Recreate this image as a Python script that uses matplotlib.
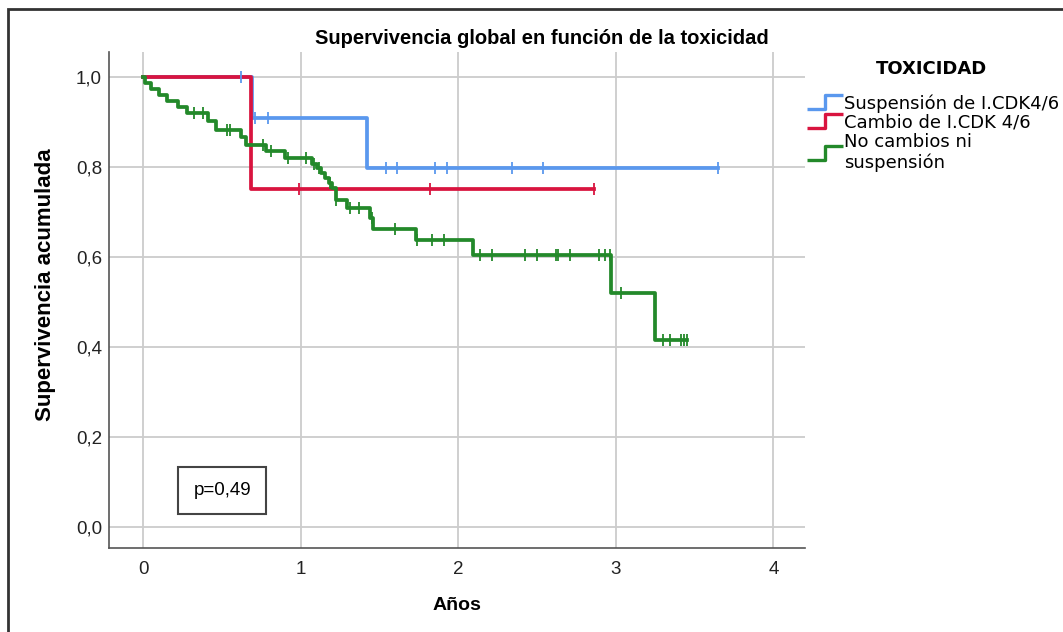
import matplotlib.pyplot as plt
from matplotlib.path import Path
from matplotlib.lines import Line2D
from matplotlib.patches import Rectangle

# curvas de Kaplan-Meier (tiempo del evento, supervivencia despues)
azul_t = [0.69, 1.42]
azul_s = [0.909, 0.798]
azul_cens = [0.62, 0.71, 0.79, 1.54, 1.61, 1.85, 1.93, 2.34, 2.54, 3.65]

rojo_t = [0.686]
rojo_s = [0.751]
rojo_cens = [0.99, 1.82, 2.86]

verde_t = [0.01, 0.05, 0.10, 0.15, 0.22, 0.28, 0.41, 0.46, 0.62, 0.65, 0.78, 0.90,
           1.07, 1.10, 1.13, 1.15, 1.18, 1.20, 1.22, 1.29, 1.44, 1.46, 1.73, 2.09,
           2.97, 3.25]
verde_s = [0.987, 0.974, 0.960, 0.947, 0.934, 0.921, 0.902, 0.883, 0.866, 0.849, 0.835, 0.820,
           0.808, 0.797, 0.786, 0.775, 0.764, 0.753, 0.727, 0.708, 0.686, 0.662, 0.637, 0.604,
           0.519, 0.415]
verde_cens = [0.32, 0.38, 0.53, 0.55, 0.76, 0.81, 0.92, 1.03, 1.085, 1.115, 1.185, 1.22,
              1.31, 1.37, 1.45, 1.60, 1.74, 1.83, 1.91, 2.14, 2.21, 2.42, 2.50, 2.62,
              2.63, 2.71, 2.89, 2.93, 2.96, 3.03, 3.30, 3.34, 3.41, 3.43, 3.45]

grupos = ["Suspensión de I.CDK4/6", "Cambio de I.CDK 4/6", "No cambios ni\nsuspensión"]
colores = ["#5a98ee", "#d9143f", "#23892a"]

estrecha = ['Liberation Sans', 'DejaVu Sans']

fig = plt.figure(figsize=(10.63, 6.32), dpi=100)
ax = fig.add_axes([109/1063, 1 - 548/632, (805-109)/1063, (548-52)/632])


def curva(t, s, cens, color):
    x = [0] + list(t) + [max(cens + list(t))]
    y = [1.0] + list(s) + [s[-1]]
    ax.step(x, y, where='post', color=color, lw=2.7, zorder=3)
    # marcas de censura
    cy = []
    for c in cens:
        v = 1.0
        for ti, si in zip(t, s):
            if ti <= c:
                v = si
        cy.append(v)
    ax.plot(cens, cy, ls='none', marker='|', ms=8, mew=1.3, color=color, zorder=4)


curva(azul_t, azul_s, azul_cens, colores[0])
curva(rojo_t, rojo_s, rojo_cens, colores[1])
curva(verde_t, verde_s, verde_cens, colores[2])

ax.set_xlim(-0.218, 4.2)
ax.set_ylim(-0.047, 1.056)
ax.set_xticks([0, 1, 2, 3, 4])
ax.set_yticks([0, 0.2, 0.4, 0.6, 0.8, 1.0])
ax.set_yticklabels(["0,0", "0,2", "0,4", "0,6", "0,8", "1,0"])
ax.tick_params(length=0, labelsize=13.5, colors='#222222')
ax.tick_params(axis='y', pad=5)
ax.tick_params(axis='x', pad=9)
for lab in ax.get_xticklabels() + ax.get_yticklabels():
    lab.set_family(estrecha)
ax.grid(color='#cccccc', lw=1.3)
ax.set_axisbelow(True)
for lado in ['top', 'right']:
    ax.spines[lado].set_visible(False)
for lado in ['left', 'bottom']:
    ax.spines[lado].set_color('#555555')
    ax.spines[lado].set_linewidth(1.2)

ax.set_xlabel("Años", fontsize=14, fontweight='bold', family=estrecha, labelpad=14)
ax.set_ylabel("Supervivencia acumulada", fontsize=16, fontweight='bold', family=estrecha)
ax.yaxis.set_label_coords(-0.076, 0.53)

fig.text(542/1063, 1 - 38/632, "Supervivencia global en función de la toxicidad",
         ha='center', va='center', fontsize=14.5, fontweight='bold', family=estrecha)

ax.text(0.5, 0.08, "p=0,49", fontsize=13.5, ha='center', va='center', family=estrecha,
        bbox=dict(boxstyle='square,pad=0.8', fc='white', ec='#444444', lw=1.5))

# icono escalonado para la leyenda
escalon = Path([(-1, -0.4), (0, -0.4), (0, 0.4), (1, 0.4)],
               [Path.MOVETO, Path.LINETO, Path.LINETO, Path.LINETO])
manejadores = [Line2D([], [], ls='none', marker=escalon, ms=26, mew=2.4,
                      mec=c, mfc='none') for c in colores]
fig.text(932/1063, 1 - 69/632, "TOXICIDAD", ha='center', va='center',
         fontsize=13, fontweight='bold')
leg = fig.legend(manejadores, grupos, loc='upper left',
                 bbox_to_anchor=(803/1063, 1 - 87/632), frameon=False,
                 fontsize=13, handlelength=1.6,
                 handletextpad=0.25, labelspacing=0.05, borderaxespad=0)

# marco exterior
fig.patches.append(Rectangle((8/1063, -0.05), 1.2, 1.05 - 9/632, transform=fig.transFigure,
                             fill=False, ec='#333333', lw=2))

plt.savefig("out.png", dpi=100)
